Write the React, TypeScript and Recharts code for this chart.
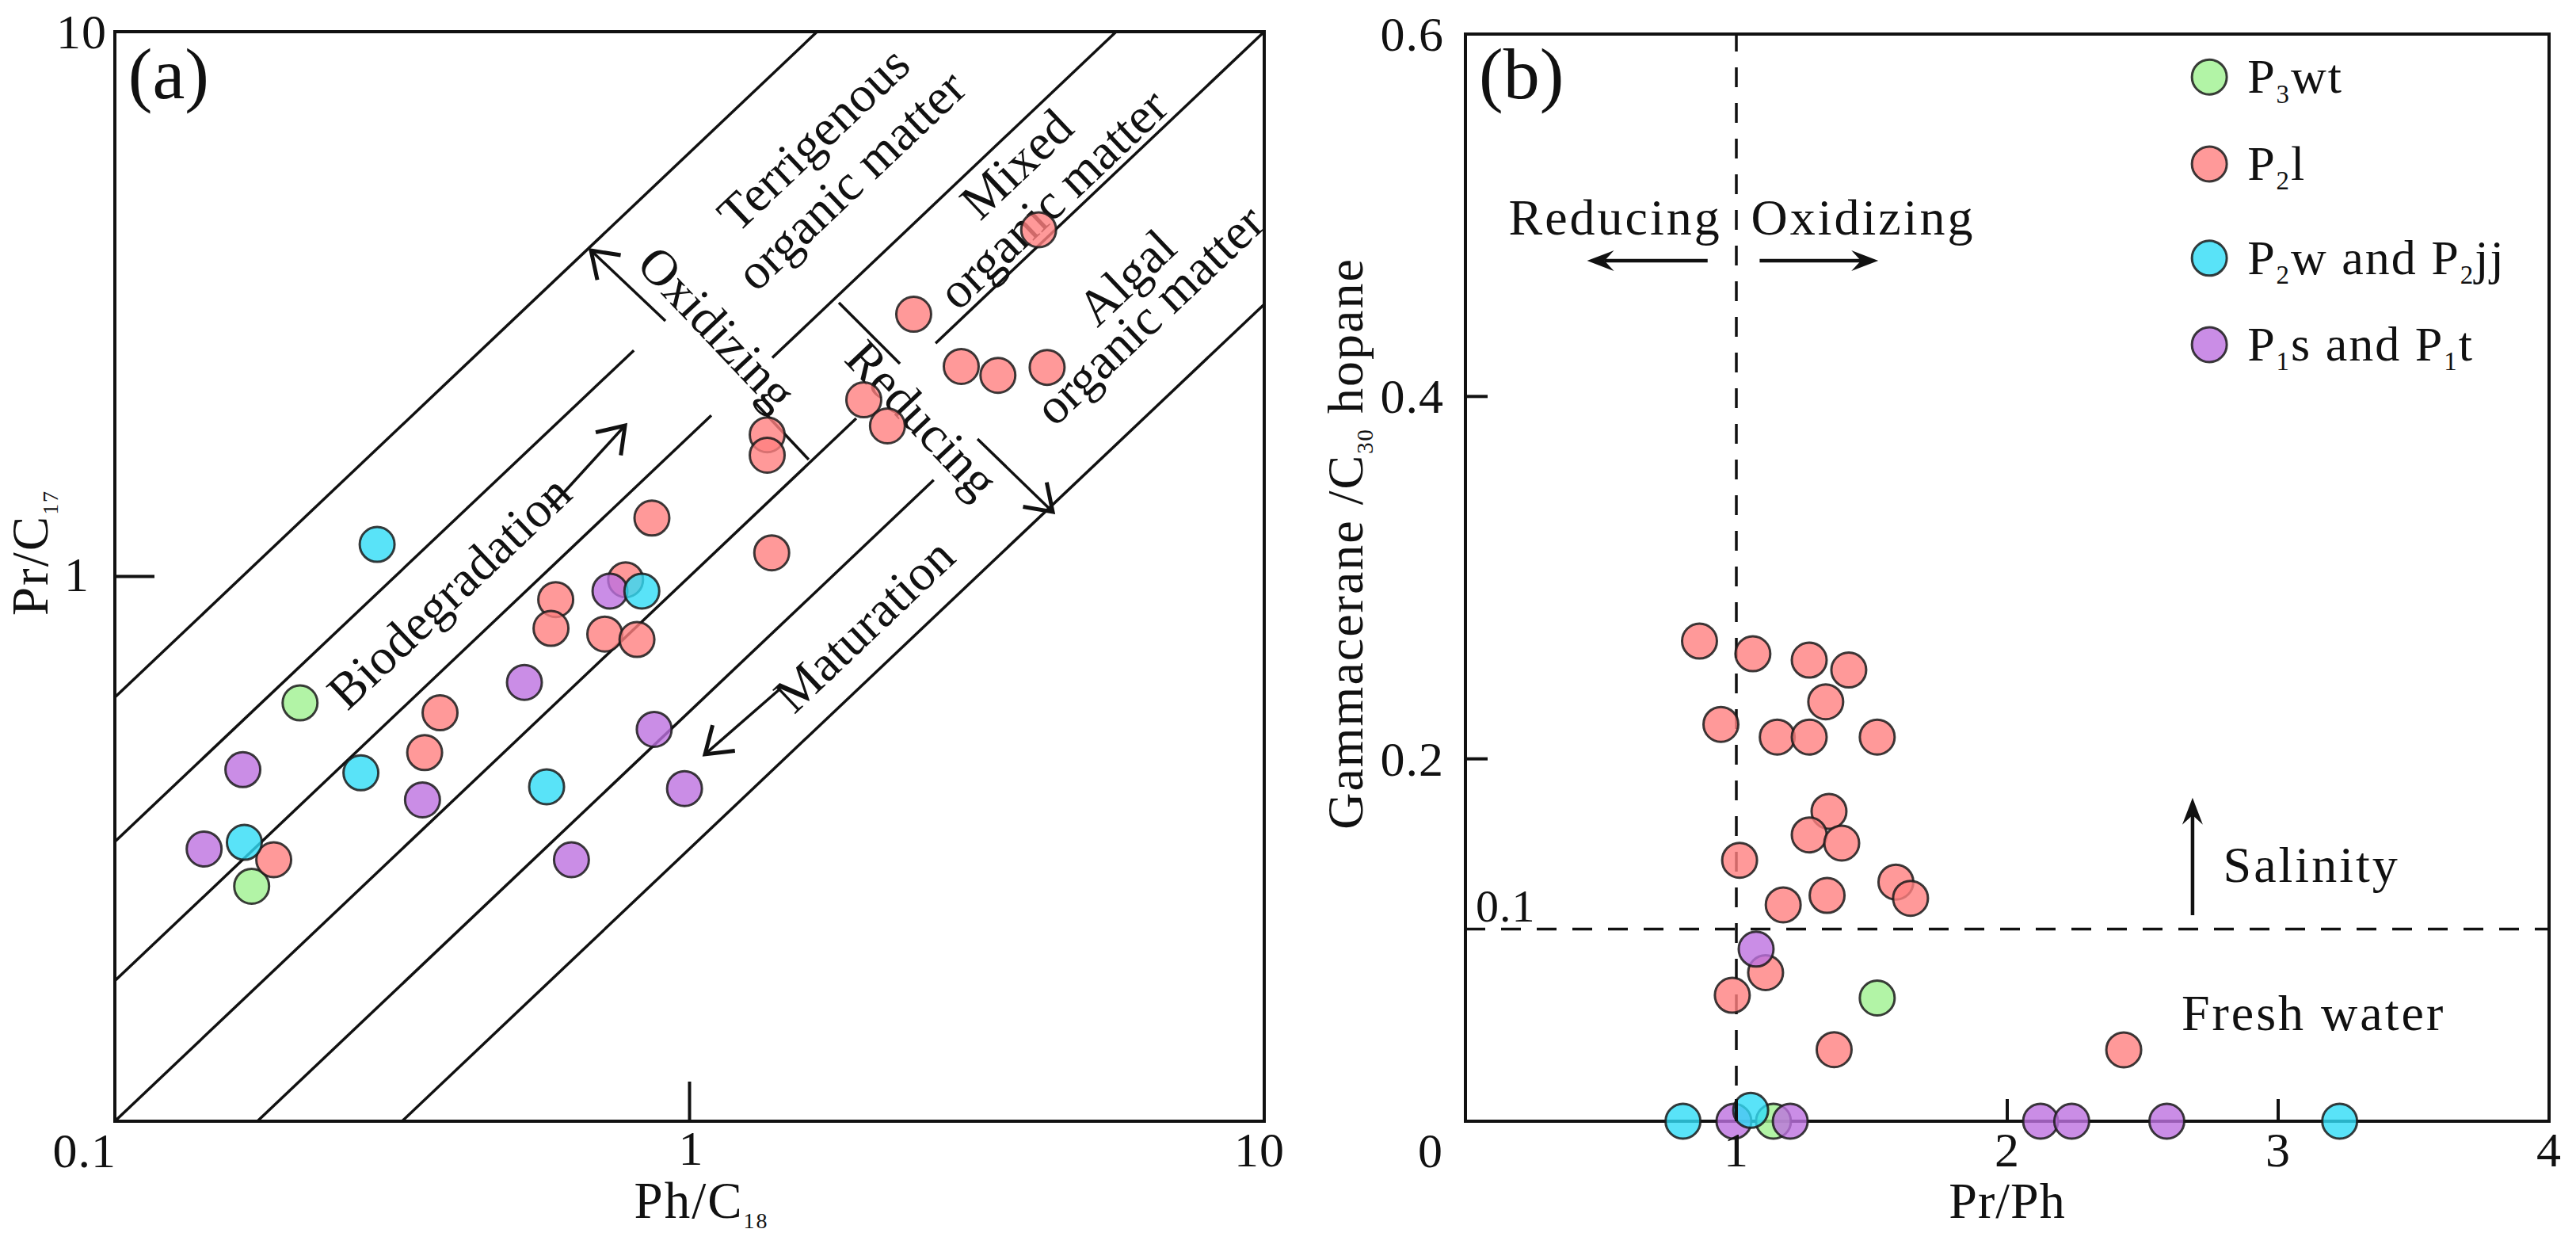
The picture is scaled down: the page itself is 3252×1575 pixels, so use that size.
import React from "react";
import {
  ScatterChart,
  Scatter,
  XAxis,
  YAxis,
  ReferenceLine,
  ReferenceDot,
  ReferenceArea,
} from "recharts";

const FONT = '"Liberation Serif", "Times New Roman", Times, serif';
const INK = "#111";

// fills are drawn at 0.8 opacity, so they are a bit deeper than they look
const COLORS = { P3wt: "#9ff190", P2l: "#ff8080", P2wjj: "#2fdcf6", P1st: "#bd70e0" };

// ---------- (a) Ph/C18 vs Pr/C17 ----------
const aP3wt = [
  { x: 0.21, y: 0.586 },
  { x: 0.173, y: 0.27 },
];
const aP2l = [
  { x: 4.05, y: 4.33 }, { x: 2.455, y: 3.03 }, { x: 2.97, y: 2.43 }, { x: 3.44, y: 2.34 },
  { x: 4.19, y: 2.42 }, { x: 2.01, y: 2.11 }, { x: 2.21, y: 1.89 }, { x: 1.365, y: 1.82 },
  { x: 1.365, y: 1.67 }, { x: 0.86, y: 1.28 }, { x: 1.39, y: 1.105 }, { x: 0.774, y: 0.986 },
  { x: 0.585, y: 0.907 }, { x: 0.574, y: 0.803 }, { x: 0.712, y: 0.784 }, { x: 0.81, y: 0.766 },
  { x: 0.368, y: 0.562 }, { x: 0.346, y: 0.475 }, { x: 0.189, y: 0.302 },
];
const aP2wjj = [
  { x: 0.286, y: 1.145 }, { x: 0.826, y: 0.94 }, { x: 0.268, y: 0.436 },
  { x: 0.564, y: 0.411 }, { x: 0.168, y: 0.325 },
];
const aP1st = [
  { x: 0.727, y: 0.94 }, { x: 0.516, y: 0.639 }, { x: 0.868, y: 0.524 }, { x: 0.167, y: 0.442 },
  { x: 0.343, y: 0.389 }, { x: 0.98, y: 0.408 }, { x: 0.143, y: 0.316 }, { x: 0.623, y: 0.302 },
];
const aTicks = [0.1, 1, 10];

// organic matter / redox field boundaries (Pr/C17 = k * Ph/C18), broken where text crosses
const aBoundaries = [
  [[0.1, 0.6], [1.667, 10]],
  [[0.1, 0.326], [0.8, 2.6]],
  [[0.1, 0.181], [1.091, 1.975]],
  [[1.393, 2.52], [5.525, 10]],
  [[0.1, 0.1], [1.95, 1.95]],
  [[2.68, 2.68], [10, 10]],
  [[0.177, 0.1], [2.66, 1.503]],
  [[0.316, 0.1], [10, 3.16]],
];
const aPlainSegments = [
  [[1.612, 1.639], [1.2996, 2.086]],
  [[1.819, 3.181], [2.323, 2.458]],
];
const aArrowSegments = [
  [[0.9078, 2.945], [0.6737, 3.967]],
  [[3.17, 1.788], [4.285, 1.314]],
  [[0.5729, 1.3406], [0.7722, 1.893]],
  [[1.434, 0.6205], [1.064, 0.4716]],
];

// ---------- (b) Pr/Ph vs Gammacerane/C30 hopane ----------
const bP3wt = [
  { x: 1.52, y: 0.068 },
  { x: 1.137, y: 0 },
];
const bP2l = [
  { x: 0.864, y: 0.265 }, { x: 1.061, y: 0.258 }, { x: 1.269, y: 0.2545 }, { x: 1.415, y: 0.249 },
  { x: 1.33, y: 0.2315 }, { x: 0.943, y: 0.219 }, { x: 1.151, y: 0.212 }, { x: 1.269, y: 0.212 },
  { x: 1.52, y: 0.212 }, { x: 1.342, y: 0.171 }, { x: 1.269, y: 0.158 }, { x: 1.389, y: 0.1535 },
  { x: 1.012, y: 0.144 }, { x: 1.589, y: 0.132 }, { x: 1.643, y: 0.123 }, { x: 1.335, y: 0.1246 },
  { x: 1.173, y: 0.1194 }, { x: 1.108, y: 0.082 }, { x: 0.985, y: 0.0695 }, { x: 1.361, y: 0.0395 },
  { x: 2.43, y: 0.0394 },
];
const bP2wjj = [
  { x: 0.803, y: 0 },
  { x: 1.053, y: 0.006 },
  { x: 3.227, y: 0 },
];
const bP1st = [
  { x: 1.073, y: 0.095 }, { x: 0.991, y: 0 }, { x: 1.199, y: 0 },
  { x: 2.123, y: 0 }, { x: 2.238, y: 0 }, { x: 2.589, y: 0 },
];
const bXTicks = [1, 2, 3, 4];
const bYTicks = [0, 0.2, 0.4, 0.6];
const redoxCut = 1;
const salinityCut = 0.106;

const legendItems = [
  { color: COLORS.P3wt, parts: ["P", "3", "wt"] },
  { color: COLORS.P2l, parts: ["P", "2", "l"] },
  { color: COLORS.P2wjj, parts: ["P", "2", "w and P", "2", "jj"] },
  { color: COLORS.P1st, parts: ["P", "1", "s and P", "1", "t"] },
];
const legendRows = [0.5763, 0.5283, 0.4763, 0.4286];

// text with subscripts: parts alternate normal / subscript
function rich(parts: string[], size: number, subScale = 0.53) {
  const drop = size * 0.2;
  return parts.map((s, i) =>
    i % 2 === 1 ? (
      <tspan key={i} fontSize={size * subScale} dy={drop}>{s}</tspan>
    ) : (
      <tspan key={i} dy={i === 0 ? 0 : -drop}>{s}</tspan>
    )
  );
}

const dot = (fill: string) => (p: any) => (
  <circle
    cx={p.cx}
    cy={p.cy}
    r={22}
    fill={fill}
    fillOpacity={0.8}
    stroke="#1a1a1a"
    strokeOpacity={0.85}
    strokeWidth={3}
  />
);

const plainLine = (p: any) => (
  <line x1={p.x1} y1={p.y1} x2={p.x2} y2={p.y2} stroke={INK} strokeWidth={3.5} />
);

const openArrow = (p: any) => {
  const { x1, y1, x2, y2 } = p;
  const t = Math.atan2(y2 - y1, x2 - x1);
  const L = 38;
  const a = 0.6;
  const w1 = `${x2 - L * Math.cos(t - a)},${y2 - L * Math.sin(t - a)}`;
  const w2 = `${x2 - L * Math.cos(t + a)},${y2 - L * Math.sin(t + a)}`;
  return (
    <g>
      <line x1={x1} y1={y1} x2={x2} y2={y2} stroke={INK} strokeWidth={3.5} />
      <polyline points={`${w1} ${x2},${y2} ${w2}`} fill="none" stroke={INK} strokeWidth={5} />
    </g>
  );
};

const solidArrow = (p: any) => {
  const { x1, y1, x2, y2 } = p;
  const len = Math.hypot(x2 - x1, y2 - y1) || 1;
  const ux = (x2 - x1) / len;
  const uy = (y2 - y1) / len;
  const px = -uy;
  const py = ux;
  const L = 34;
  const W = 13;
  const N = 22;
  const pts = [
    [x2, y2],
    [x2 - L * ux + W * px, y2 - L * uy + W * py],
    [x2 - N * ux, y2 - N * uy],
    [x2 - L * ux - W * px, y2 - L * uy - W * py],
  ]
    .map((q) => q.join(","))
    .join(" ");
  return (
    <g>
      <line x1={x1} y1={y1} x2={x2 - N * ux} y2={y2 - N * uy} stroke={INK} strokeWidth={4.5} />
      <polygon points={pts} fill={INK} />
    </g>
  );
};

type NoteOpts = {
  angle?: number;
  size?: number;
  anchor?: "start" | "middle" | "end";
  baseline?: string;
  spacing?: number;
};

function note(key: string, x: number, y: number, content: React.ReactNode, opts: NoteOpts = {}) {
  const { angle = 0, size = 64, anchor = "middle", baseline = "central", spacing = 0 } = opts;
  return (
    <ReferenceDot
      key={key}
      x={x}
      y={y}
      r={0}
      ifOverflow="visible"
      shape={(p: any) => (
        <text
          x={p.cx}
          y={p.cy}
          transform={angle ? `rotate(${angle} ${p.cx} ${p.cy})` : undefined}
          textAnchor={anchor}
          dominantBaseline={baseline}
          fontFamily={FONT}
          fontSize={size}
          letterSpacing={spacing}
          fill={INK}
        >
          {content}
        </text>
      )}
    />
  );
}

const tickText = (x: number, y: number, s: string, anchor: "start" | "middle" | "end", size = 62) => (
  <text
    x={x}
    y={y}
    textAnchor={anchor}
    dominantBaseline="central"
    fontFamily={FONT}
    fontSize={size}
    letterSpacing={1}
    fill={INK}
  >
    {s}
  </text>
);

// ticks point into the frame, labels sit outside
const aYTick = (p: any) => {
  const v = p.payload.value;
  if (v === 1)
    return (
      <g>
        <line x1={p.x} y1={p.y} x2={p.x + 50} y2={p.y} stroke={INK} strokeWidth={4} />
        {tickText(p.x - 32, p.y - 3, "1", "end")}
      </g>
    );
  if (v === 10) return tickText(p.x - 10, p.y, "10", "end");
  return tickText(p.x + 2, p.y + 37, "0.1", "end");
};

const aXTick = (p: any) => {
  const v = p.payload.value;
  if (v === 1)
    return (
      <g>
        <line x1={p.x} y1={p.y} x2={p.x} y2={p.y - 50} stroke={INK} strokeWidth={4} />
        {tickText(p.x + 2, p.y + 34, "1", "middle")}
      </g>
    );
  if (v === 10) return tickText(p.x - 6, p.y + 36, "10", "middle");
  return <g />;
};

const bYTick = (p: any) => {
  const v = p.payload.value;
  if (v === 0) return tickText(p.x - 28, p.y + 37, "0", "end");
  const label = tickText(p.x - 27, p.y, String(v), "end");
  if (v === 0.6) return label;
  return (
    <g>
      <line x1={p.x} y1={p.y} x2={p.x + 28} y2={p.y} stroke={INK} strokeWidth={4} />
      {label}
    </g>
  );
};

const bXTick = (p: any) => {
  const v = p.payload.value;
  const label = tickText(p.x, p.y + 36, String(v), "middle");
  if (v === 4) return label;
  return (
    <g>
      <line x1={p.x} y1={p.y} x2={p.x} y2={p.y - 28} stroke={INK} strokeWidth={4} />
      {label}
    </g>
  );
};

const DIAG = -43.46;
const PERP = 46.54;

export default function App() {
  return (
    <div
      style={{
        position: "absolute",
        left: 0,
        top: 0,
        width: 3252,
        height: 1575,
        background: "#fff",
        fontFamily: FONT,
      }}
    >
      <div style={{ position: "absolute", left: 0, top: 0 }}>
        <ScatterChart width={1640} height={1575} margin={{ top: 40, right: 44, bottom: 159, left: 144 }}>
          <XAxis
            type="number"
            dataKey="x"
            scale="log"
            domain={[0.1, 10]}
            ticks={aTicks}
            interval={0}
            height={1}
            tickSize={0}
            tickMargin={0}
            axisLine={false}
            tickLine={false}
            tick={aXTick}
            label={{
              content: (lp: any) => (
                <text
                  x={lp.viewBox.x + lp.viewBox.width / 2 + 15}
                  y={lp.viewBox.y + 122}
                  textAnchor="middle"
                  fontFamily={FONT}
                  fontSize={65}
                  letterSpacing={2}
                  fill={INK}
                >
                  {rich(["Ph/C", "18"], 65, 0.43)}
                </text>
              ),
            }}
          />
          <YAxis
            type="number"
            dataKey="y"
            scale="log"
            domain={[0.1, 10]}
            ticks={aTicks}
            interval={0}
            width={1}
            tickSize={0}
            tickMargin={0}
            axisLine={false}
            tickLine={false}
            tick={aYTick}
            label={{
              content: (lp: any) => {
                const cx = lp.viewBox.x - 84;
                const cy = lp.viewBox.y + lp.viewBox.height / 2 - 30;
                return (
                  <text
                    x={cx}
                    y={cy}
                    transform={`rotate(-90 ${cx} ${cy})`}
                    textAnchor="middle"
                    fontFamily={FONT}
                    fontSize={65}
                    letterSpacing={2}
                    fill={INK}
                  >
                    {rich(["Pr/C", "17"], 65, 0.43)}
                  </text>
                );
              },
            }}
          />
          <ReferenceArea x1={0.1} x2={10} y1={0.1} y2={10} fill="none" stroke={INK} strokeWidth={4} />
          {aBoundaries.map((s, i) => (
            <ReferenceLine
              key={`bd${i}`}
              segment={[{ x: s[0][0], y: s[0][1] }, { x: s[1][0], y: s[1][1] }]}
              shape={plainLine}
            />
          ))}
          {aPlainSegments.map((s, i) => (
            <ReferenceLine
              key={`ps${i}`}
              segment={[{ x: s[0][0], y: s[0][1] }, { x: s[1][0], y: s[1][1] }]}
              shape={plainLine}
            />
          ))}
          {aArrowSegments.map((s, i) => (
            <ReferenceLine
              key={`ar${i}`}
              segment={[{ x: s[0][0], y: s[0][1] }, { x: s[1][0], y: s[1][1] }]}
              shape={openArrow}
            />
          ))}
          {note("pa", 0.1055, 7.55, "(a)", { size: 92, anchor: "start", baseline: "alphabetic" })}
          {note("t1", 1.643, 6.362, "Terrigenous", { angle: DIAG })}
          {note("t2", 1.908, 5.346, "organic matter", { angle: DIAG })}
          {note("m1", 3.704, 5.716, "Mixed", { angle: DIAG })}
          {note("m2", 4.285, 4.934, "organic matter", { angle: DIAG })}
          {note("g1", 5.759, 3.541, "Algal", { angle: DIAG })}
          {note("g2", 6.312, 3.025, "organic matter", { angle: DIAG })}
          {note("ox", 1.116, 2.858, "Oxidizing", { angle: PERP })}
          {note("re", 2.539, 1.944, "Reducing", { angle: PERP })}
          {note("bi", 0.3817, 0.9367, "Biodegradation", { angle: DIAG })}
          {note("ma", 2.013, 0.8138, "Maturation", { angle: DIAG })}
          <Scatter name="P3wt" data={aP3wt} isAnimationActive={false} shape={dot(COLORS.P3wt)} />
          <Scatter name="P2l" data={aP2l} isAnimationActive={false} shape={dot(COLORS.P2l)} />
          <Scatter name="P1s and P1t" data={aP1st} isAnimationActive={false} shape={dot(COLORS.P1st)} />
          <Scatter name="P2w and P2jj" data={aP2wjj} isAnimationActive={false} shape={dot(COLORS.P2wjj)} />
        </ScatterChart>
      </div>

      <div style={{ position: "absolute", left: 1640, top: 0 }}>
        <ScatterChart width={1612} height={1575} margin={{ top: 43, right: 34, bottom: 159, left: 209 }}>
          <XAxis
            type="number"
            dataKey="x"
            domain={[0, 4]}
            ticks={bXTicks}
            interval={0}
            height={1}
            tickSize={0}
            tickMargin={0}
            axisLine={false}
            tickLine={false}
            tick={bXTick}
            label={{
              content: (lp: any) => (
                <text
                  x={lp.viewBox.x + lp.viewBox.width / 2}
                  y={lp.viewBox.y + 122}
                  textAnchor="middle"
                  fontFamily={FONT}
                  fontSize={64}
                  letterSpacing={1}
                  fill={INK}
                >
                  Pr/Ph
                </text>
              ),
            }}
          />
          <YAxis
            type="number"
            dataKey="y"
            domain={[0, 0.6]}
            ticks={bYTicks}
            interval={0}
            width={1}
            tickSize={0}
            tickMargin={0}
            axisLine={false}
            tickLine={false}
            tick={bYTick}
            label={{
              content: (lp: any) => {
                const cx = lp.viewBox.x - 129;
                const cy = lp.viewBox.y + lp.viewBox.height / 2 - 43;
                return (
                  <text
                    x={cx}
                    y={cy}
                    transform={`rotate(-90 ${cx} ${cy})`}
                    textAnchor="middle"
                    fontFamily={FONT}
                    fontSize={64}
                    letterSpacing={2}
                    fill={INK}
                  >
                    {rich(["Gammacerane /C", "30", " hopane"], 64, 0.45)}
                  </text>
                );
              },
            }}
          />
          <ReferenceArea x1={0} x2={4} y1={0} y2={0.6} fill="none" stroke={INK} strokeWidth={4} />
          <ReferenceLine x={redoxCut} stroke={INK} strokeWidth={3.5} strokeDasharray="25 20" />
          <ReferenceLine y={salinityCut} stroke={INK} strokeWidth={3.5} strokeDasharray="25 20" />
          <ReferenceLine segment={[{ x: 0.894, y: 0.4749 }, { x: 0.449, y: 0.4749 }]} shape={solidArrow} />
          <ReferenceLine segment={[{ x: 1.086, y: 0.4749 }, { x: 1.524, y: 0.4749 }]} shape={solidArrow} />
          <ReferenceLine segment={[{ x: 2.684, y: 0.1137 }, { x: 2.684, y: 0.1785 }]} shape={solidArrow} />
          {note("pb", 0.05, 0.5646, "(b)", { size: 92, anchor: "start", baseline: "alphabetic" })}
          {note("rd", 0.553, 0.4895, "Reducing", { baseline: "alphabetic", spacing: 3 })}
          {note("ox", 1.468, 0.4895, "Oxidizing", { baseline: "alphabetic", spacing: 3 })}
          {note("sa", 2.797, 0.132, "Salinity", { anchor: "start", baseline: "alphabetic", spacing: 3 })}
          {note("fw", 2.643, 0.0504, "Fresh water", { anchor: "start", baseline: "alphabetic", spacing: 3 })}
          {note("c1", 0.038, 0.11, "0.1", { anchor: "start", baseline: "alphabetic", size: 58, spacing: 1 })}
          {legendItems.map((it, i) => (
            <ReferenceDot
              key={`lg${i}`}
              x={2.746}
              y={legendRows[i]}
              r={0}
              shape={(p: any) => (
                <g>
                  <circle
                    cx={p.cx}
                    cy={p.cy}
                    r={22}
                    fill={it.color}
                    fillOpacity={0.8}
                    stroke="#1a1a1a"
                    strokeOpacity={0.85}
                    strokeWidth={3}
                  />
                  <text
                    x={p.cx + 48}
                    y={p.cy + 20}
                    fontFamily={FONT}
                    fontSize={62}
                    letterSpacing={2}
                    fill={INK}
                  >
                    {rich(it.parts, 62)}
                  </text>
                </g>
              )}
            />
          ))}
          <Scatter name="P3wt" data={bP3wt} isAnimationActive={false} shape={dot(COLORS.P3wt)} />
          <Scatter name="P2l" data={bP2l} isAnimationActive={false} shape={dot(COLORS.P2l)} />
          <Scatter name="P1s and P1t" data={bP1st} isAnimationActive={false} shape={dot(COLORS.P1st)} />
          <Scatter name="P2w and P2jj" data={bP2wjj} isAnimationActive={false} shape={dot(COLORS.P2wjj)} />
        </ScatterChart>
      </div>
    </div>
  );
}
